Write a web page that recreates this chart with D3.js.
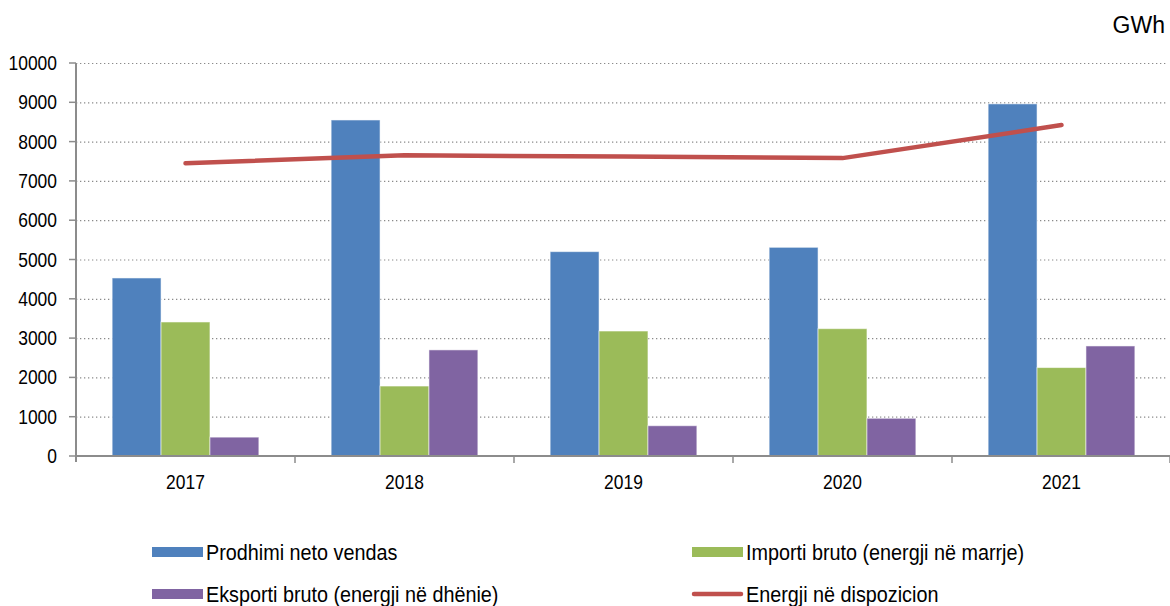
<!DOCTYPE html>
<html>
<head>
<meta charset="utf-8">
<script src="https://cdn.jsdelivr.net/npm/d3@7"></script>
<style>
  body { margin: 0; background: #fff; }
  text { font-family: "Liberation Sans", Arial, sans-serif; fill: #000; }
</style>
</head>
<body>
<script>
const years = ["2017", "2018", "2019", "2020", "2021"];
const prodhimi = [4530, 8550, 5200, 5310, 8960];
const importi = [3410, 1780, 3180, 3240, 2250];
const eksporti = [480, 2700, 770, 960, 2800];
const energji = [7450, 7650, 7620, 7580, 8420];
const yTicks = [0, 1000, 2000, 3000, 4000, 5000, 6000, 7000, 8000, 9000, 10000];
const seriesNames = ["Prodhimi neto vendas", "Importi bruto (energji në marrje)", "Eksporti bruto (energji në dhënie)", "Energji në dispozicion"];
const colors = ["#4f81bd", "#9bbb59", "#8064a2", "#c0504d"];

const dims = { width: 1170, height: 606, left: 76, right: 1171, top: 63, bottom: 456 };

const svg = d3.select("body").append("svg").attr("width", dims.width).attr("height", dims.height);

const barSeries = [prodhimi, importi, eksporti];

const x0 = d3.scaleBand().domain(years).range([dims.left, dims.right]).paddingInner(0.33).paddingOuter(0.165);
const x1 = d3.scaleBand().domain(d3.range(barSeries.length)).range([0, x0.bandwidth()]);
const y = d3.scaleLinear().domain([0, 10000]).range([dims.bottom, dims.top]);

// condensed-looking text helper
function label(g, x, yPos, str, anchor, size, sx) {
  return g.append("text")
    .attr("transform", `translate(${x},${yPos}) scale(${sx},1)`)
    .attr("text-anchor", anchor)
    .attr("font-size", size)
    .text(str);
}

// gridlines
svg.append("g").selectAll("line").data(yTicks.filter(d => d > 0)).join("line")
  .attr("x1", dims.left).attr("x2", 1168)
  .attr("y1", d => y(d) + 0.5).attr("y2", d => y(d) + 0.5)
  .attr("stroke", "#8a8a8a").attr("stroke-width", 1.2).attr("stroke-dasharray", "1.3,2.7");

// bars
const groups = svg.append("g").selectAll("g").data(years).join("g")
  .attr("transform", d => `translate(${x0(d)},0)`);
groups.selectAll("rect").data((d, i) => barSeries.map((s, k) => ({ k, v: s[i] }))).join("rect")
  .attr("x", d => x1(d.k))
  .attr("width", x1.bandwidth())
  .attr("y", d => y(d.v))
  .attr("height", d => y(0) - y(d.v))
  .attr("fill", d => colors[d.k])
  .attr("stroke", "rgba(255,255,255,0.55)")
  .attr("stroke-width", 1);

// axes
const yAxis = svg.append("g");
yAxis.append("line").attr("x1", dims.left).attr("x2", dims.left).attr("y1", dims.top).attr("y2", dims.bottom + 6)
  .attr("stroke", "#8c8c8c").attr("stroke-width", 2);
yAxis.selectAll(".tk").data(yTicks).join("line").attr("class", "tk")
  .attr("x1", dims.left - 7).attr("x2", dims.left)
  .attr("y1", d => y(d)).attr("y2", d => y(d))
  .attr("stroke", "#8c8c8c").attr("stroke-width", 1.5);
yTicks.forEach(t => label(yAxis, 57, y(t) + 7, String(t), "end", 20.5, 0.85));

const xAxis = svg.append("g");
xAxis.append("line").attr("x1", dims.left).attr("x2", dims.right).attr("y1", dims.bottom).attr("y2", dims.bottom)
  .attr("stroke", "#8c8c8c").attr("stroke-width", 2);
const bounds = years.map(d => x0(d) - x0.step() * x0.paddingInner() / 2).concat([dims.right - 1]);
xAxis.selectAll(".tk").data(bounds.slice(1)).join("line").attr("class", "tk")
  .attr("x1", d => d).attr("x2", d => d)
  .attr("y1", dims.bottom).attr("y2", dims.bottom + 7)
  .attr("stroke", "#8c8c8c").attr("stroke-width", 1.5);
years.forEach(yr => label(xAxis, x0(yr) + x0.bandwidth() / 2, 489, yr, "middle", 20.5, 0.85));

// line
const line = d3.line().x((d, i) => x0(years[i]) + x0.bandwidth() / 2).y(d => y(d));
svg.append("path").datum(energji).attr("d", line)
  .attr("fill", "none").attr("stroke", colors[3]).attr("stroke-width", 4.5)
  .attr("stroke-linecap", "round").attr("stroke-linejoin", "round");

// unit
label(svg, 1165, 33, "GWh", "end", 23, 1.0);

// legend
const legendPos = [[152, 552], [692, 552], [152, 594], [692, 594]];
const legend = svg.append("g");
seriesNames.forEach((name, i) => {
  const [lx, ly] = legendPos[i];
  if (i < 3) {
    legend.append("rect").attr("x", lx).attr("y", ly - 5).attr("width", 51).attr("height", 10).attr("fill", colors[i]);
  } else {
    legend.append("line").attr("x1", lx + 2).attr("x2", lx + 49).attr("y1", ly).attr("y2", ly)
      .attr("stroke", colors[i]).attr("stroke-width", 4.5).attr("stroke-linecap", "round");
  }
  label(legend, lx + 54, ly + 8, name, "start", 22, 0.9);
});
</script>
</body>
</html>
